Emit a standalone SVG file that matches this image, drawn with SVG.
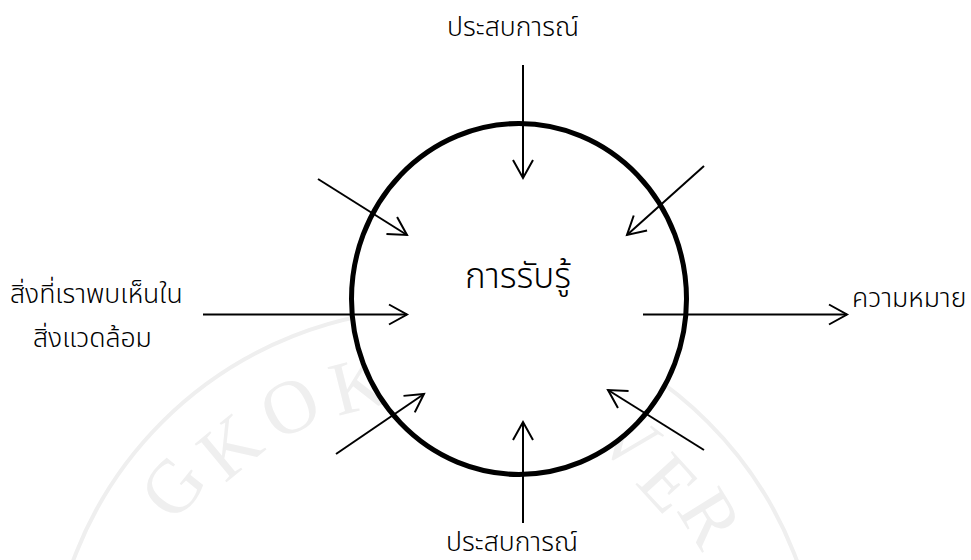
<svg xmlns="http://www.w3.org/2000/svg" width="971" height="560" viewBox="0 0 971 560">
<style>
.lbl{font-family:"Noto Sans Thai","Noto Sans",sans-serif;font-size:26.6px;font-weight:300;fill:#000}
.ctr{font-family:"Noto Sans Thai","Noto Sans",sans-serif;font-size:35px;font-weight:300;fill:#000}
.wm{font-family:"Liberation Serif",serif;font-size:76px;fill:#efefef;text-anchor:middle}
.arr{stroke:#000;stroke-width:2;fill:none;marker-end:url(#ah)}
</style>
<defs>
<marker id="ah" markerUnits="userSpaceOnUse" viewBox="-22 -12 24 24" refX="0" refY="0" markerWidth="24" markerHeight="24" orient="auto" overflow="visible">
<path d="M-18,-10 L0,0 L-18,10" fill="none" stroke="#000" stroke-width="2"/>
</marker>
</defs>
<rect width="971" height="560" fill="#fff"/>
<g id="watermark">
<circle cx="435" cy="695" r="386" fill="none" stroke="#efefef" stroke-width="4"/>
<text class="wm" transform="translate(173,487) rotate(-51.5)" y="25">G</text>
<text class="wm" transform="translate(230,447) rotate(-39.6)" y="25">K</text>
<text class="wm" transform="translate(290,407) rotate(-26.7)" y="25">O</text>
<text class="wm" transform="translate(358,385) rotate(-14)" y="25">K</text>
<text class="wm" transform="translate(628,439) rotate(37)" y="25">V</text>
<text class="wm" transform="translate(668,483) rotate(47.7)" y="25">E</text>
<text class="wm" transform="translate(710,518) rotate(58.2)" y="25">R</text>
</g>
<g id="perception">
<ellipse cx="519" cy="299" rx="167.5" ry="175.5" fill="#fff" stroke="#000" stroke-width="5"/>
<text class="ctr" x="518" y="288" text-anchor="middle">การรับรู้</text>
</g>
<g id="connectors">
<line class="arr" x1="523" y1="65" x2="523" y2="178"/>
<line class="arr" x1="523" y1="523" x2="523" y2="422"/>
<line class="arr" x1="203" y1="314.5" x2="407" y2="314.5"/>
<line class="arr" x1="643" y1="314.5" x2="847" y2="314.5"/>
<line class="arr" x1="318" y1="179" x2="407" y2="235"/>
<line class="arr" x1="704" y1="166" x2="627" y2="235"/>
<line class="arr" x1="336" y1="454" x2="424" y2="394"/>
<line class="arr" x1="704" y1="450" x2="608" y2="390"/>
</g>
<g id="exp-top"><text class="lbl" x="513" y="36" text-anchor="middle">ประสบการณ์</text></g>
<g id="exp-bottom"><text class="lbl" x="512" y="551" text-anchor="middle">ประสบการณ์</text></g>
<g id="environment">
<text class="lbl" x="10" y="303">สิ่งที่เราพบเห็นใน</text>
<text class="lbl" x="33" y="347">สิ่งแวดล้อม</text>
</g>
<g id="meaning"><text class="lbl" x="852" y="307">ความหมาย</text></g>
</svg>
